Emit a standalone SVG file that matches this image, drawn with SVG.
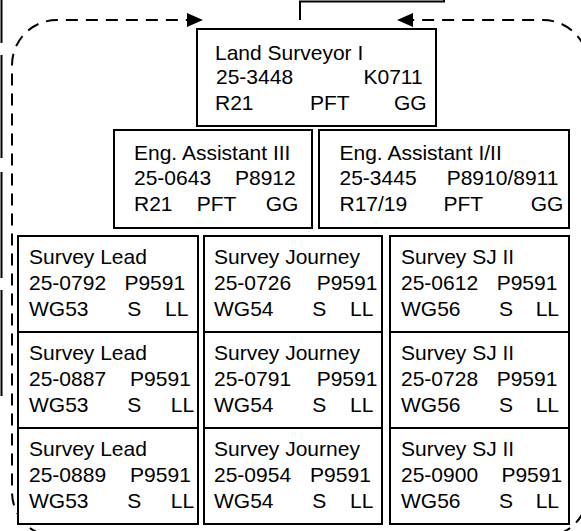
<svg xmlns="http://www.w3.org/2000/svg" width="581" height="531" viewBox="0 0 581 531">
<style>
.box{fill:#fff;stroke:#000;stroke-width:2}
.t{font-family:"Liberation Sans",Arial,sans-serif;font-size:21px;fill:#000}
.dash{fill:none;stroke:#000;stroke-width:2;stroke-dasharray:12 8}
.solid{fill:none;stroke:#000;stroke-width:2}
</style>
<defs>
<marker id="ah" markerUnits="userSpaceOnUse" markerWidth="16" markerHeight="14" refX="0" refY="7" orient="auto">
<path d="M0,0 L16,7 L0,14 z" fill="#000"/>
</marker>
</defs>
<rect width="581" height="531" fill="#fff"/>
<g id="connectors">
<polyline class="solid" points="300,20 300,1.5 444,1.5 444,0"/>
<path class="dash" d="M300,537 L57,537 A45,45 0 0 1 12,492 L12,65 A45,45 0 0 1 57,20 L187,20" marker-end="url(#ah)"/>
<path class="dash" d="M300,537 L543,537 A45,45 0 0 0 588,492 L588,65 A45,45 0 0 0 543,20 L413,20" marker-end="url(#ah)"/>
<g id="left-edge" class="solid">
<line x1="1.5" y1="0" x2="1.5" y2="43"/>
<line x1="1.5" y1="55" x2="1.5" y2="158"/>
<line x1="1.5" y1="172" x2="1.5" y2="278"/>
<line x1="1.5" y1="290" x2="1.5" y2="396"/>
</g>
</g>
<g id="land-surveyor">
<rect class="box" x="197" y="29" width="239" height="97"/>
<text class="t" x="215" y="60">Land Surveyor I</text>
<text class="t" x="216" y="84">25-3448</text>
<text class="t" x="363.5" y="84">K0711</text>
<text class="t" x="215" y="110">R21</text>
<text class="t" x="310" y="110">PFT</text>
<text class="t" x="394" y="110">GG</text>
</g>
<g id="eng-assistant-3">
<rect class="box" x="114" y="130" width="198" height="98"/>
<text class="t" x="134" y="160">Eng. Assistant III</text>
<text class="t" x="134" y="185">25-0643</text>
<text class="t" x="235" y="185">P8912</text>
<text class="t" x="134" y="211">R21</text>
<text class="t" x="196.7" y="211">PFT</text>
<text class="t" x="265.7" y="211">GG</text>
</g>
<g id="eng-assistant-1-2">
<rect class="box" x="319" y="130" width="250" height="98"/>
<text class="t" x="339.5" y="160">Eng. Assistant I/II</text>
<text class="t" x="339.5" y="185">25-3445</text>
<text class="t" x="446.7" y="185">P8910/8911</text>
<text class="t" x="339.5" y="211">R17/19</text>
<text class="t" x="443.4" y="211">PFT</text>
<text class="t" x="530.7" y="211">GG</text>
</g>
<g id="survey-lead-1">
<rect class="box" x="18" y="236" width="180" height="96"/>
<text class="t" x="29" y="264">Survey Lead</text>
<text class="t" x="29" y="290">25-0792</text>
<text class="t" x="124.4" y="290">P9591</text>
<text class="t" x="29" y="316">WG53</text>
<text class="t" x="127.3" y="316">S</text>
<text class="t" x="165.1" y="316">LL</text>
</g>
<g id="survey-lead-2">
<rect class="box" x="18" y="332" width="180" height="96"/>
<text class="t" x="29" y="360">Survey Lead</text>
<text class="t" x="29" y="386">25-0887</text>
<text class="t" x="130.1" y="386">P9591</text>
<text class="t" x="29" y="412">WG53</text>
<text class="t" x="127.3" y="412">S</text>
<text class="t" x="170.8" y="412">LL</text>
</g>
<g id="survey-lead-3">
<rect class="box" x="18" y="428" width="180" height="96"/>
<text class="t" x="29" y="456">Survey Lead</text>
<text class="t" x="29" y="482">25-0889</text>
<text class="t" x="130.1" y="482">P9591</text>
<text class="t" x="29" y="508">WG53</text>
<text class="t" x="127.3" y="508">S</text>
<text class="t" x="170.8" y="508">LL</text>
</g>
<g id="survey-journey-1">
<rect class="box" x="204" y="236" width="178" height="96"/>
<text class="t" x="214" y="264">Survey Journey</text>
<text class="t" x="214" y="290">25-0726</text>
<text class="t" x="316.7" y="290">P9591</text>
<text class="t" x="214" y="316">WG54</text>
<text class="t" x="312.3" y="316">S</text>
<text class="t" x="350.1" y="316">LL</text>
</g>
<g id="survey-journey-2">
<rect class="box" x="204" y="332" width="178" height="96"/>
<text class="t" x="214" y="360">Survey Journey</text>
<text class="t" x="214" y="386">25-0791</text>
<text class="t" x="316.7" y="386">P9591</text>
<text class="t" x="214" y="412">WG54</text>
<text class="t" x="312.3" y="412">S</text>
<text class="t" x="350.1" y="412">LL</text>
</g>
<g id="survey-journey-3">
<rect class="box" x="204" y="428" width="178" height="96"/>
<text class="t" x="214" y="456">Survey Journey</text>
<text class="t" x="214" y="482">25-0954</text>
<text class="t" x="310.1" y="482">P9591</text>
<text class="t" x="214" y="508">WG54</text>
<text class="t" x="312.3" y="508">S</text>
<text class="t" x="350.1" y="508">LL</text>
</g>
<g id="survey-sj2-1">
<rect class="box" x="390" y="236" width="179" height="96"/>
<text class="t" x="401" y="264">Survey SJ II</text>
<text class="t" x="401" y="290">25-0612</text>
<text class="t" x="496.7" y="290">P9591</text>
<text class="t" x="401" y="316">WG56</text>
<text class="t" x="499" y="316">S</text>
<text class="t" x="535.7" y="316">LL</text>
</g>
<g id="survey-sj2-2">
<rect class="box" x="390" y="332" width="179" height="96"/>
<text class="t" x="401" y="360">Survey SJ II</text>
<text class="t" x="401" y="386">25-0728</text>
<text class="t" x="496.7" y="386">P9591</text>
<text class="t" x="401" y="412">WG56</text>
<text class="t" x="499" y="412">S</text>
<text class="t" x="535.7" y="412">LL</text>
</g>
<g id="survey-sj2-3">
<rect class="box" x="390" y="428" width="179" height="96"/>
<text class="t" x="401" y="456">Survey SJ II</text>
<text class="t" x="401" y="482">25-0900</text>
<text class="t" x="501.4" y="482">P9591</text>
<text class="t" x="401" y="508">WG56</text>
<text class="t" x="499" y="508">S</text>
<text class="t" x="535.7" y="508">LL</text>
</g>
</svg>
